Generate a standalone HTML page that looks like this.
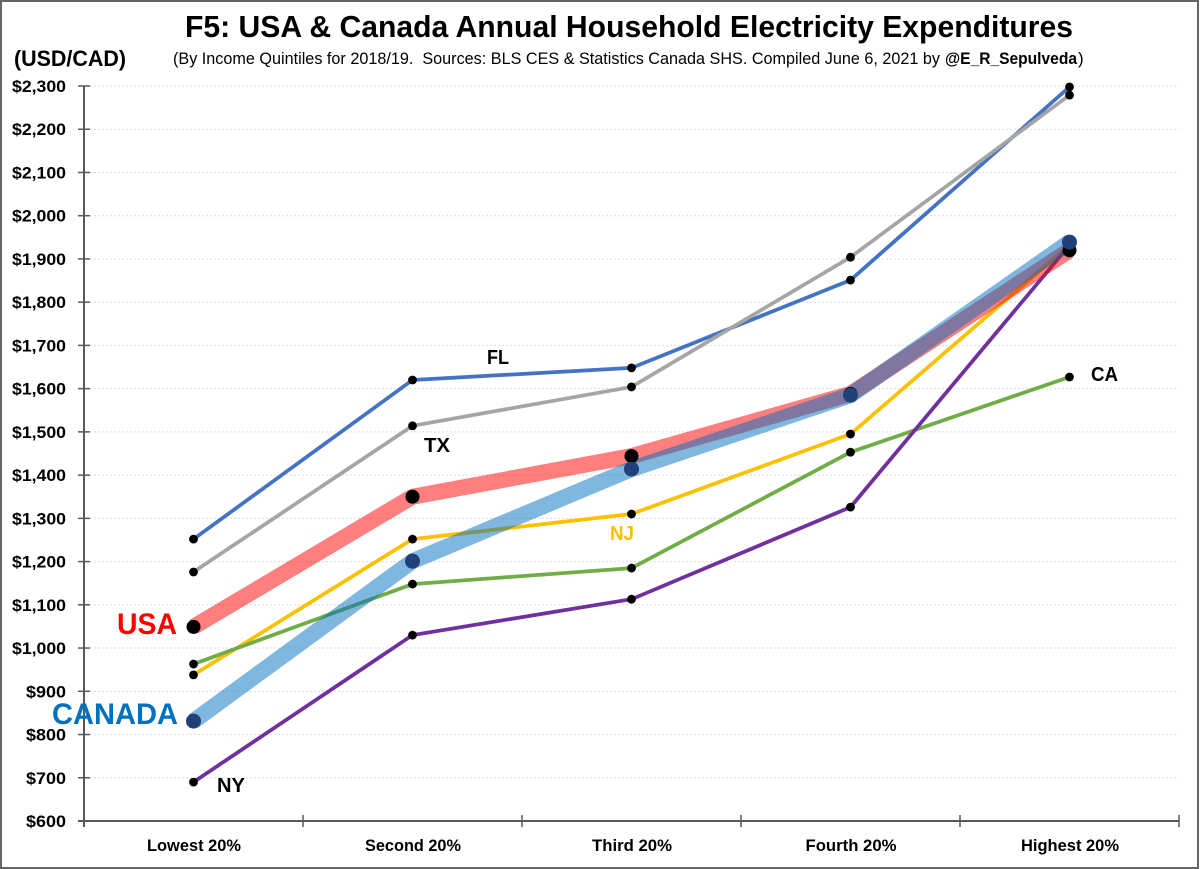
<!DOCTYPE html>
<html lang="en">
<head>
<meta charset="utf-8">
<title>F5: USA &amp; Canada Annual Household Electricity Expenditures</title>
<style>
html,body{margin:0;padding:0;background:#fff;}
svg{display:block;}
text{font-family:"Liberation Sans",sans-serif;fill:#000;white-space:pre;}
.b{font-weight:bold;}
</style>
</head>
<body>
<svg id="chart" width="1200" height="869" viewBox="0 0 1200 869" xmlns="http://www.w3.org/2000/svg">
<rect x="1" y="1" width="1197" height="867" fill="#fff" stroke="#666" stroke-width="2"/>
<text class="b" x="185" y="37" font-size="30.5" textLength="888" lengthAdjust="spacingAndGlyphs">F5: USA &amp; Canada Annual Household Electricity Expenditures</text>
<text x="173" y="64" font-size="17" textLength="767" lengthAdjust="spacingAndGlyphs">(By Income Quintiles for 2018/19.  Sources: BLS CES &amp; Statistics Canada SHS. Compiled June 6, 2021 by</text>
<text class="b" x="945" y="64" font-size="17" textLength="132" lengthAdjust="spacingAndGlyphs">@E_R_Sepulveda</text>
<text x="1078" y="64" font-size="17">)</text>
<text class="b" x="14" y="66" font-size="22" textLength="112" lengthAdjust="spacingAndGlyphs">(USD/CAD)</text>
<g id="grid"></g>
<g id="axes"></g>
<g id="lines"></g>
<g id="markers"></g>
<g id="labels">
<text class="b" x="117" y="634" font-size="30" style="fill:#ff0000" textLength="60" lengthAdjust="spacingAndGlyphs">USA</text>
<text class="b" x="52" y="724" font-size="30" style="fill:#0070c0" textLength="126" lengthAdjust="spacingAndGlyphs">CANADA</text>
<text class="b" x="487" y="364" font-size="20" textLength="22" lengthAdjust="spacingAndGlyphs">FL</text>
<text class="b" x="424" y="452" font-size="20" textLength="26" lengthAdjust="spacingAndGlyphs">TX</text>
<text class="b" x="610" y="540" font-size="20" style="fill:#ffc000" textLength="24" lengthAdjust="spacingAndGlyphs">NJ</text>
<text class="b" x="217" y="792" font-size="20" textLength="28" lengthAdjust="spacingAndGlyphs">NY</text>
<text class="b" x="1091" y="381" font-size="20" textLength="27" lengthAdjust="spacingAndGlyphs">CA</text>
</g>
</svg>
<script>
const categories = ["Lowest 20%", "Second 20%", "Third 20%", "Fourth 20%", "Highest 20%"];
const yTicks = [600, 700, 800, 900, 1000, 1100, 1200, 1300, 1400, 1500, 1600, 1700, 1800, 1900, 2000, 2100, 2200, 2300];
const flValues = [1252, 1620, 1648, 1851, 2298];
const txValues = [1176, 1514, 1604, 1904, 2279];
const njValues = [938, 1252, 1310, 1495, 1932];
const caValues = [963, 1148, 1185, 1453, 1627];
const nyValues = [690, 1030, 1113, 1326, 1932];
const usaValues = [1049, 1350, 1444, 1588, 1920];
const canadaValues = [831, 1201, 1414, 1585, 1939];

const NS = "http://www.w3.org/2000/svg";
const plotLeft = 84, plotRight = 1179, plotTop = 86, plotBottom = 821;
const yMin = yTicks[0], yMax = yTicks[yTicks.length - 1];
function yScale(v) { return plotBottom - (v - yMin) / (yMax - yMin) * (plotBottom - plotTop); }
function bandWidth() { return (plotRight - plotLeft) / categories.length; }
function xScale(i) { return plotLeft + bandWidth() * (i + 0.5); }
function make(tag, parent, attrs) {
  const el = document.createElementNS(NS, tag);
  for (const k in attrs) el.setAttribute(k, attrs[k]);
  parent.appendChild(el);
  return el;
}
const grid = document.getElementById("grid");
const axes = document.getElementById("axes");
const linesG = document.getElementById("lines");
const markersG = document.getElementById("markers");

yTicks.forEach(function (t) {
  const y = yScale(t);
  if (t !== yMin) {
    const g = make("line", grid, { x1: plotLeft + 6, x2: plotRight, y1: y, y2: y, stroke: "#dcdcdc", "stroke-width": 1, "stroke-dasharray": "2 2" });
    
    
  }
  const tick = make("line", axes, { x1: plotLeft - 6, x2: plotLeft + 6, y1: y, y2: y, stroke: "#595959", "stroke-width": 1.5 });
  
  
  const lab = make("text", axes, { x: 66, y: y + 6, "text-anchor": "end", "font-size": 17, "font-weight": "bold", textLength: t >= 1000 ? 54 : 40, lengthAdjust: "spacingAndGlyphs" });
  
  
  lab.textContent = "$" + t.toLocaleString("en-US");
});

const yAxis = make("line", axes, { x1: plotLeft, x2: plotLeft, y1: plotTop, y2: plotBottom + 6, stroke: "#595959", "stroke-width": 2 });


const xAxis = make("line", axes, { x1: plotLeft - 6, x2: plotRight, y1: plotBottom, y2: plotBottom, stroke: "#595959", "stroke-width": 2 });



categories.forEach(function (c, i) {
  const edge = plotLeft + bandWidth() * (i + 1);
  const tick = make("line", axes, { x1: edge, x2: edge, y1: plotBottom - 6, y2: plotBottom + 6, stroke: "#595959", "stroke-width": 1.5 });
  
  
  const lab = make("text", axes, { x: xScale(i) + 0.5, y: 851, "text-anchor": "middle", "font-size": 16.5, "font-weight": "bold", textLength: [94, 96, 80, 91, 98][i], lengthAdjust: "spacingAndGlyphs" });
  
  
  lab.textContent = c;
});

function drawLine(values, color, width, opacity, name) {
  const pts = values.map(function (v, i) { return xScale(i) + "," + yScale(v); }).join(" ");
  const el = make("polyline", linesG, { points: pts, fill: "none", stroke: color, "stroke-width": width, "stroke-opacity": opacity, "stroke-linejoin": "round" });
  
  
}
function drawMarkers(values, color, r, name) {
  values.forEach(function (v, i) {
    const el = make("circle", markersG, { cx: xScale(i), cy: yScale(v), r: r, fill: color });
    
    
  });
}

drawLine(flValues, "#4472c4", 3.75, 1, "line-fl");
drawLine(txValues, "#a5a5a5", 3.75, 1, "line-tx");
drawLine(njValues, "#ffc000", 3.75, 1, "line-nj");
drawLine(caValues, "#70ad47", 3.75, 1, "line-ca");
drawLine(nyValues, "#7030a0", 3.75, 1, "line-ny");
drawLine(usaValues, "#ff0000", 16, 0.5, "line-usa");
drawLine(canadaValues, "#0070c0", 16, 0.5, "line-canada");

drawMarkers(flValues, "#000", 4.4, "marker-fl");
drawMarkers(txValues, "#000", 4.4, "marker-tx");
drawMarkers(njValues, "#000", 4.4, "marker-nj");
drawMarkers(caValues, "#000", 4.4, "marker-ca");
drawMarkers(nyValues, "#000", 4.4, "marker-ny");
drawMarkers(usaValues, "#000", 7, "marker-usa");
drawMarkers(canadaValues, "#1f4078", 7.5, "marker-canada");
</script>
</body>
</html>
